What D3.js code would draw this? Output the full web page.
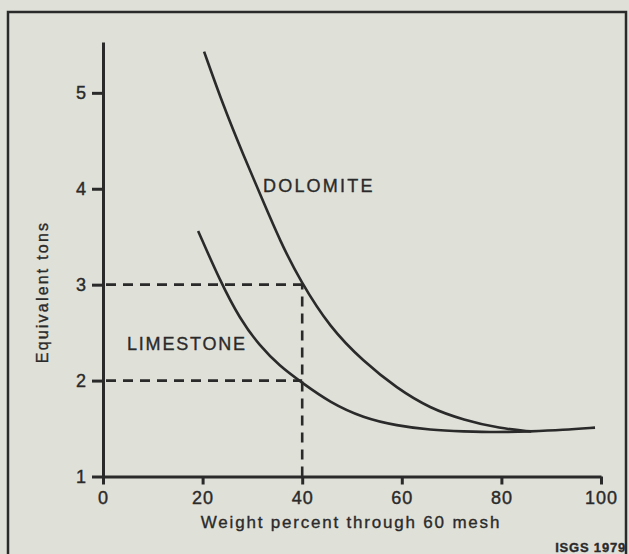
<!DOCTYPE html>
<html>
<head>
  <title>Equivalent tons vs. fineness</title>
  <script src="https://d3js.org/d3.v7.min.js"></script>
  <style>
    html, body { margin: 0; padding: 0; background: #dfe0d8; }
    svg { display: block; font-family: "Liberation Sans", Arial, Helvetica, sans-serif; }
    .axis path, .axis line { stroke: #2a2a2a; stroke-width: 3px; fill: none; }
    .axis text { font-size: 18px; fill: #2a2a2a; stroke: #2a2a2a; stroke-width: 0.4px; letter-spacing: 1px; }
    .curve { fill: none; stroke: #2a2a2a; stroke-width: 2.6px; }
    .guide { fill: none; stroke: #2a2a2a; stroke-width: 2.6px; stroke-dasharray: 10,7; }
    .lbl { fill: #2a2a2a; stroke: #2a2a2a; stroke-width: 0.35px; }
  </style>
</head>
<body>
  <svg id="chart"></svg>

  <script>
    // Data
    const xTicks = [0, 20, 40, 60, 80, 100];
    const yTicks = [1, 2, 3, 4, 5];

    const dolomiteX = [20.3, 24.2, 28.2, 31.9, 35.6, 39.6, 45.6, 52.3, 59.0, 65.7, 72.4, 79.7, 86.0];
    const dolomiteY = [5.43, 4.86, 4.35, 3.90, 3.45, 3.04, 2.55, 2.20, 1.92, 1.71, 1.59, 1.50, 1.47];

    const limestoneX = [19.1, 23.5, 27.5, 31.5, 35.5, 39.9, 45.6, 52.3, 59.0, 65.7, 72.4, 79.1, 85.7, 92.4, 98.8];
    const limestoneY = [3.56, 3.04, 2.64, 2.36, 2.15, 1.98, 1.77, 1.61, 1.53, 1.485, 1.47, 1.46, 1.47, 1.485, 1.51];

    // worked example: 40 % through 60 mesh
    const guideX = 40;
    const guideY = [2, 3];

    const width = 629;
    const height = 554;

    const svg = d3.select("#chart")
                  .attr("width", width)
                  .attr("height", height);

    // frame round the figure
    svg.append("rect")
       .attr("x", 8).attr("y", 12)
       .attr("width", 618).attr("height", 580)
       .attr("fill", "none")
       .attr("stroke", "#2a2a2a")
       .attr("stroke-width", 2.5);

    const x = d3.scaleLinear().domain([0, 100]).range([103, 601]);
    const y = d3.scaleLinear().domain([1, 5.53]).range([476.5, 42]);

    // axes
    svg.append("g")
       .attr("class", "axis")
       .attr("transform", `translate(0, ${y(1)})`)
       .call(d3.axisBottom(x).tickValues(xTicks).tickFormat(d3.format("d"))
               .tickSize(8).tickSizeOuter(0).tickPadding(7))
       .selectAll("text").attr("dy", "0.72em");

    svg.append("g")
       .attr("class", "axis")
       .attr("transform", `translate(${x(0)}, 0)`)
       .call(d3.axisLeft(y).tickValues(yTicks).tickFormat(d3.format("d"))
               .tickSize(11).tickSizeOuter(0).tickPadding(5));

    // dashed guides
    svg.append("line")
       .attr("class", "guide")
       .attr("x1", x(guideX)).attr("x2", x(guideX))
       .attr("y1", y(1)).attr("y2", y(guideY[1]));

    guideY.forEach(v => {
      svg.append("line")
         .attr("class", "guide")
         .attr("x1", x(0) + 3).attr("x2", x(guideX))
         .attr("y1", y(v)).attr("y2", y(v));
    });

    // curves
    const line = d3.line()
                   .x(d => x(d[0]))
                   .y(d => y(d[1]))
                   .curve(d3.curveBasis);

    svg.append("path")
       .attr("class", "curve")
       .attr("d", line(d3.zip(dolomiteX, dolomiteY)));

    svg.append("path")
       .attr("class", "curve")
       .attr("d", line(d3.zip(limestoneX, limestoneY)));

    // labels
    svg.append("text")
       .attr("class", "lbl")
       .attr("x", 263).attr("y", 192)
       .style("font-size", "18px")
       .style("letter-spacing", "2.2px")
       .text("DOLOMITE");

    svg.append("text")
       .attr("class", "lbl")
       .attr("x", 127).attr("y", 350)
       .style("font-size", "18px")
       .style("letter-spacing", "1.8px")
       .text("LIMESTONE");

    svg.append("text")
       .attr("class", "lbl")
       .attr("x", 351).attr("y", 528)
       .attr("text-anchor", "middle")
       .style("font-size", "17px")
       .style("letter-spacing", "1.8px")
       .text("Weight percent through 60 mesh");

    svg.append("text")
       .attr("class", "lbl")
       .attr("transform", "translate(48, 292) rotate(-90)")
       .attr("text-anchor", "middle")
       .style("font-size", "16px")
       .style("letter-spacing", "2.2px")
       .text("Equivalent tons");

    svg.append("text")
       .attr("class", "lbl")
       .attr("x", 626).attr("y", 552)
       .attr("text-anchor", "end")
       .style("font-size", "13px")
       .style("font-weight", "bold")
       .style("letter-spacing", "0.8px")
       .text("ISGS 1979");
  </script>
</body>
</html>
